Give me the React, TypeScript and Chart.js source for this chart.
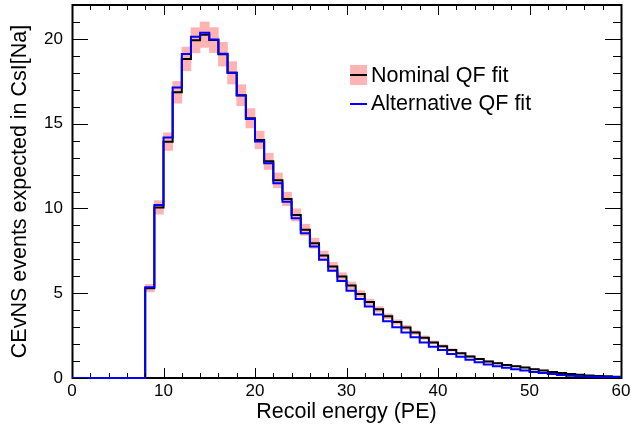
import React, { useEffect, useRef } from 'react';
import { Chart, registerables } from 'chart.js';

Chart.register(...registerables);

// Bin lower edges (PE), bin width 1
const binLow = [
  0, 1, 2, 3, 4, 5, 6, 7, 8, 9, 10, 11, 12, 13, 14, 15, 16, 17, 18, 19,
  20, 21, 22, 23, 24, 25, 26, 27, 28, 29, 30, 31, 32, 33, 34, 35, 36, 37, 38, 39,
  40, 41, 42, 43, 44, 45, 46, 47, 48, 49, 50, 51, 52, 53, 54, 55, 56, 57, 58, 59,
];
const binWidth = 1;

const nominal = [
  0, 0, 0, 0, 0, 0, 0, 0, 5.3, 10.06,
  13.94, 16.85, 18.82, 19.92, 20.25, 19.93, 19.1, 18.0, 16.68, 15.32,
  14.04, 12.78, 11.66, 10.56, 9.62, 8.74, 7.95, 7.22, 6.57, 5.98,
  5.45, 4.96, 4.48, 4.05, 3.64, 3.3, 2.98, 2.68, 2.38, 2.1,
  1.88, 1.65, 1.46, 1.27, 1.12, 0.98, 0.87, 0.77, 0.7, 0.62,
  0.52, 0.44, 0.36, 0.3, 0.24, 0.19, 0.15, 0.12, 0.1, 0.08,
];

const nominalErr = [
  0, 0, 0, 0, 0, 0, 0, 0, 0.22, 0.4,
  0.52, 0.64, 0.7, 0.74, 0.75, 0.74, 0.7, 0.66, 0.62, 0.57,
  0.52, 0.48, 0.44, 0.4, 0.36, 0.33, 0.3, 0.27, 0.25, 0.23,
  0.21, 0.19, 0.17, 0.16, 0.14, 0.13, 0.12, 0.11, 0.1, 0.09,
  0.08, 0.07, 0.06, 0.06, 0.05, 0.05, 0.04, 0.04, 0.04, 0.03,
  0.03, 0.03, 0.02, 0.02, 0.02, 0.02, 0.01, 0.01, 0.01, 0.01,
];

const alternative = [
  0, 0, 0, 0, 0, 0, 0, 0, 5.35, 10.2,
  14.18, 17.13, 19.11, 20.12, 20.37, 19.96, 19.12, 18.0, 16.66, 15.28,
  13.95, 12.66, 11.49, 10.4, 9.42, 8.54, 7.75, 6.98, 6.33, 5.72,
  5.15, 4.66, 4.21, 3.74, 3.34, 3.0, 2.69, 2.4, 2.1, 1.85,
  1.65, 1.42, 1.26, 1.08, 0.93, 0.8, 0.7, 0.6, 0.52, 0.44,
  0.36, 0.29, 0.23, 0.18, 0.14, 0.11, 0.09, 0.07, 0.05, 0.04,
];

const seriesLabels = ['Nominal QF fit', 'Alternative QF fit'];
const xTitle = 'Recoil energy (PE)';
const yTitle = 'CEvNS events expected in CsI[Na]';

const X_MIN = 0;
const X_MAX = 60;
const Y_MIN = 0;
const Y_MAX = 22;

const FONT = '"Liberation Sans", Arial, Helvetica, sans-serif';
const BAND = 'rgb(255,179,179)';

function stepPoints(values: number[]) {
  const pts = binLow.map((x, i) => ({ x, y: values[i] }));
  pts.push({ x: binLow[binLow.length - 1] + binWidth, y: values[values.length - 1] });
  return pts;
}

const rootStyle = {
  id: 'rootStyle',
  beforeDatasetsDraw(chart: any) {
    const { ctx, chartArea } = chart;
    ctx.save();
    ctx.strokeStyle = '#000';
    ctx.lineWidth = 2;
    ctx.strokeRect(chartArea.left + 0.5, chartArea.top, chartArea.right - chartArea.left, chartArea.bottom - chartArea.top);
    ctx.restore();
  },
  afterDatasetsDraw(chart: any) {
    const { ctx, chartArea } = chart;
    const xs = chart.scales.x;
    const ys = chart.scales.y;
    ctx.save();
    ctx.strokeStyle = '#000';
    ctx.lineWidth = 1;
    ctx.beginPath();
    // x ticks (bottom and top, pointing inward)
    for (let v = X_MIN; v <= X_MAX + 1e-9; v += 2) {
      const major = Math.abs(v % 10) < 1e-9;
      const len = major ? 10 : 5;
      const px = Math.round(xs.getPixelForValue(v)) + 0.5;
      ctx.moveTo(px, chartArea.bottom - 1);
      ctx.lineTo(px, chartArea.bottom - len);
      ctx.moveTo(px, chartArea.top);
      ctx.lineTo(px, chartArea.top + len);
    }
    // y ticks (left and right)
    for (let v = Y_MIN; v <= Y_MAX + 1e-9; v += 1) {
      const major = Math.abs(v % 5) < 1e-9;
      const len = major ? 16 : 8;
      const py = Math.round(ys.getPixelForValue(v)) + 0.5;
      ctx.moveTo(chartArea.left, py);
      ctx.lineTo(chartArea.left + len, py);
      ctx.moveTo(chartArea.right, py);
      ctx.lineTo(chartArea.right - len, py);
    }
    ctx.stroke();

    // legend
    const lx = 350;
    const lw = 17;
    ctx.fillStyle = BAND;
    ctx.fillRect(lx, 65, lw, 20);
    ctx.lineWidth = 2;
    ctx.strokeStyle = '#000';
    ctx.beginPath();
    ctx.moveTo(lx, 75);
    ctx.lineTo(lx + lw, 75);
    ctx.stroke();
    ctx.strokeStyle = '#0000ff';
    ctx.beginPath();
    ctx.moveTo(lx, 104);
    ctx.lineTo(lx + lw, 104);
    ctx.stroke();
    ctx.fillStyle = '#000';
    ctx.font = `21.5px ${FONT}`;
    ctx.textBaseline = 'alphabetic';
    ctx.textAlign = 'left';
    ctx.fillText(seriesLabels[0], 371, 82);
    ctx.fillText(seriesLabels[1], 371, 109.5);
    ctx.restore();
  },
};

export default function App() {
  const ref = useRef<HTMLCanvasElement | null>(null);

  useEffect(() => {
    if (!ref.current) return;
    const chart = new Chart(ref.current, {
      type: 'bar',
      data: {
        datasets: [
          {
            type: 'line',
            label: seriesLabels[1],
            data: stepPoints(alternative),
            borderColor: '#0000ff',
            borderWidth: 2,
            pointRadius: 0,
            stepped: true,
            fill: false,
            clip: false,
            order: 0,
          } as any,
          {
            type: 'line',
            label: seriesLabels[0],
            data: stepPoints(nominal),
            borderColor: '#000000',
            borderWidth: 2,
            pointRadius: 0,
            stepped: true,
            fill: false,
            clip: false,
            order: 1,
          } as any,
          {
            type: 'bar',
            label: 'band',
            data: binLow
              .map((x, i) => ({ x: x + binWidth / 2, y: [nominal[i] - nominalErr[i], nominal[i] + nominalErr[i]] }))
              .filter((d, i) => nominal[i] > 0),
            backgroundColor: BAND,
            borderWidth: 0,
            barPercentage: 1,
            categoryPercentage: 1,
            grouped: false,
            order: 2,
          } as any,
        ],
      },
      options: {
        animation: false,
        responsive: false,
        devicePixelRatio: 1,
        layout: { padding: { left: 0, top: 5, right: 10, bottom: 0 } },
        plugins: {
          legend: { display: false },
          tooltip: { enabled: false },
        },
        scales: {
          x: {
            type: 'linear',
            min: X_MIN,
            max: X_MAX,
            offset: false,
            grid: { display: false, drawTicks: false },
            border: { display: false },
            ticks: {
              stepSize: 10,
              maxRotation: 0,
              padding: 3,
              color: '#000',
              font: { family: FONT, size: 17 },
            },
            title: {
              display: true,
              text: xTitle,
              color: '#000',
              font: { family: FONT, size: 21.5 },
              padding: { top: 0, bottom: 2 },
            },
            afterFit(scale: any) {
              scale.height = 49;
              scale.paddingLeft = 0;
              scale.paddingRight = 0;
            },
          },
          y: {
            type: 'linear',
            min: Y_MIN,
            max: Y_MAX,
            grid: { display: false, drawTicks: false },
            border: { display: false },
            ticks: {
              stepSize: 5,
              includeBounds: false,
              padding: 9,
              color: '#000',
              font: { family: FONT, size: 17 },
            },
            title: {
              display: true,
              text: yTitle,
              color: '#000',
              font: { family: FONT, size: 21.5 },
              padding: { top: 7, bottom: 0 },
            },
            afterFit(scale: any) {
              scale.width = 72;
              scale.paddingTop = 0;
              scale.paddingBottom = 0;
            },
          },
        },
      },
      plugins: [rootStyle],
    } as any);
    return () => chart.destroy();
  }, []);

  return (
    <div style={{ position: 'absolute', left: 0, top: 0, width: 631, height: 427, background: '#fff' }}>
      <canvas ref={ref} width={631} height={427} style={{ display: 'block', width: 631, height: 427 }} />
    </div>
  );
}
